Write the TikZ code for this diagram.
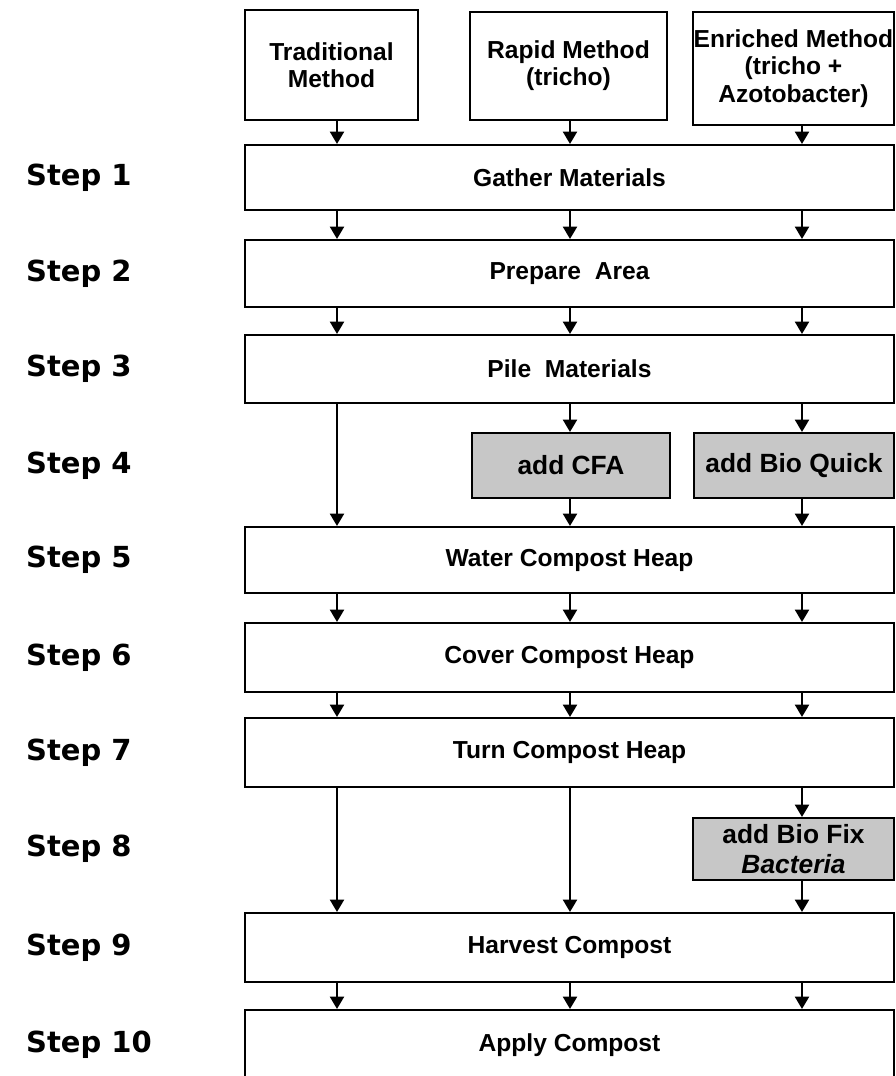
\documentclass[tikz,border=0pt]{standalone}
\usepackage{fontspec}
\setmainfont{Liberation Sans}
\newfontfamily\stepfont{DejaVu Sans}
\usetikzlibrary{arrows.meta, positioning}

\begin{document}
\begin{tikzpicture}[x=0.02cm, y=-0.02cm,
    every node/.style={font=\bfseries\fontsize{14}{15.5}\selectfont},
    box/.style={draw, line width=1.2pt, align=center, inner sep=0pt},
    addbox/.style={box, fill=black!22, font=\bfseries\fontsize{15}{17}\selectfont},
    steplabel/.style={anchor=west, font=\stepfont\bfseries\fontsize{16.5}{18}\selectfont},
    flow/.style={line width=1.1pt, -{Triangle[width=8pt, length=7pt]}}
]

% one pixel of the page
\def\px{0.02cm}

\useasboundingbox (0,0) rectangle (896,1076);
\clip (0,0) rectangle (896,1076);

% Columns of the three methods
\coordinate (c1) at (337,0);
\coordinate (c2) at (570,0);
\coordinate (c3) at (802,0);

% Method headers
\node[box, minimum width=173*\px, minimum height=110*\px] (trad) at (331.5,65) {Traditional\\ Method};
\node[box, minimum width=197*\px, minimum height=108*\px] (rapid) at (568.5,66) {Rapid Method\\ (tricho)};
\node[box, minimum width=201*\px, minimum height=113*\px] (enr) at (793.5,68.5) {Enriched Method\\ (tricho +\\ Azotobacter)};

% Common steps
\node[box, minimum width=649*\px, minimum height=65*\px] (gather) at (569.5,177.5) {Gather Materials};
\node[box, minimum width=649*\px, minimum height=67*\px] (prep) at (569.5,273.5) {Prepare\ \ Area};
\node[box, minimum width=649*\px, minimum height=68*\px] (pile) at (569.5,369) {Pile\ \ Materials};
\node[box, minimum width=649*\px, minimum height=66*\px] (water) at (569.5,560) {Water Compost Heap};
\node[box, minimum width=649*\px, minimum height=69*\px] (cover) at (569.5,657.5) {Cover Compost Heap};
\node[box, minimum width=649*\px, minimum height=69*\px] (turn) at (569.5,752.5) {Turn Compost Heap};
\node[box, minimum width=649*\px, minimum height=69*\px] (harvest) at (569.5,947.5) {Harvest Compost};
\node[box, minimum width=649*\px, minimum height=70*\px] (apply) at (569.5,1045) {Apply Compost};

% Additions
\node[addbox, minimum width=198*\px, minimum height=65*\px] (cfa) at (571,465.5) {add CFA};
\node[addbox, minimum width=200*\px, minimum height=65*\px] (quick) at (794,465.5) {add Bio Quick};
\node[addbox, minimum width=201*\px, minimum height=62*\px] (fix) at (793.5,849) {add Bio Fix\\ \textit{Bacteria}};

% Step labels
\foreach \n/\r in {1/gather, 2/prep, 3/pile, 4/cfa, 5/water, 6/cover, 7/turn, 8/fix, 9/harvest, 10/apply}
    \node[steplabel] (step\n) at (20,0 |- \r) {Step\ \n};

% Arrows from the headers
\draw[flow] (c1 |- trad.south) -- (c1 |- gather.north);
\draw[flow] (c2 |- rapid.south) -- (c2 |- gather.north);
\draw[flow] (c3 |- enr.south) -- (c3 |- gather.north);

% Arrows in all three columns
\foreach \a/\b in {gather/prep, prep/pile, water/cover, cover/turn, harvest/apply}
    \foreach \c in {c1,c2,c3}
        \draw[flow] (\c |- \a.south) -- (\c |- \b.north);

% Step 4
\draw[flow] (c1 |- pile.south) -- (c1 |- water.north);
\draw[flow] (c2 |- pile.south) -- (c2 |- cfa.north);
\draw[flow] (c3 |- pile.south) -- (c3 |- quick.north);
\draw[flow] (c2 |- cfa.south) -- (c2 |- water.north);
\draw[flow] (c3 |- quick.south) -- (c3 |- water.north);

% Step 8
\draw[flow] (c1 |- turn.south) -- (c1 |- harvest.north);
\draw[flow] (c2 |- turn.south) -- (c2 |- harvest.north);
\draw[flow] (c3 |- turn.south) -- (c3 |- fix.north);
\draw[flow] (c3 |- fix.south) -- (c3 |- harvest.north);

\end{tikzpicture}
\end{document}
